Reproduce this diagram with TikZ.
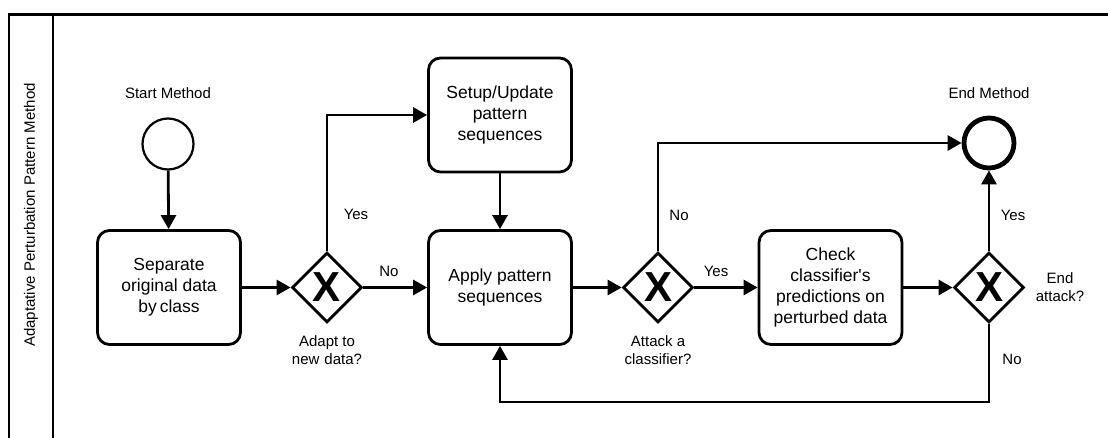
\documentclass[tikz,border=0pt]{standalone}
\usepackage{fontspec}
\setmainfont{Liberation Sans}
\usetikzlibrary{shapes.geometric,arrows.meta}

\begin{document}
\begin{tikzpicture}[x=1pt,y=-1pt,
  flow/.style={line width=2.8pt,-{Triangle[length=14pt,width=15pt]}},
  task/.style={draw,line width=2.8pt,rounded corners=12pt,minimum width=143pt,minimum height=114pt,
    align=center,inner sep=2pt,font=\fontsize{17.5}{21}\selectfont},
  gateway/.style={draw,diamond,aspect=1,line width=2.8pt,minimum size=70pt,inner sep=0pt,
    font=\fontsize{42}{42}\selectfont\bfseries},
  startev/.style={draw,circle,line width=2.2pt,minimum size=51pt,inner sep=0pt},
  endev/.style={draw,circle,line width=4.8pt,minimum size=50pt,inner sep=0pt},
  lbl/.style={align=center,inner sep=0pt,font=\fontsize{15}{18}\selectfont},
  frame/.style={line width=2.8pt}
]
\useasboundingbox (0,0) rectangle (1108,438);

% pool frame and lane header
\draw[frame] (1112,14.5) -- (9,14.5) -- (9,442);
\draw[frame] (53,14.5) -- (53,442);
\node[lbl,rotate=90] (lanetitle) at (31,215) {Adaptative Perturbation Pattern Method};

% events
\node[startev] (start) at (168,144) {};
\node[endev] (finish) at (989,143) {};
\node[lbl] (startlbl) at (168,93) {Start Method};
\node[lbl] (endlbl) at (989,93) {End Method};

% tasks
\node[task] (separate) at (169,287.5) {Separate\\original data\\by\,class};
\node[task] (setup) at (500,115) {Setup/Update\\pattern\\sequences};
\node[task] (apply) at (500,287.5) {Apply pattern\\sequences};
\node[task] (check) at (830.5,287.5) {Check\\classifier\textquotesingle s\\predictions on\\perturbed data};

% exclusive gateways
\node[gateway] (gwadapt) at (327,287.5) {X};
\node[gateway] (gwattack) at (658,287.5) {X};
\node[gateway] (gwend) at (989,287.5) {X};

% gateway captions
\node[lbl] (adaptlbl) at (327,350) {Adapt to\\new\,\,data?};
\node[lbl] (attacklbl) at (658,350) {Attack a\\classifier?};
\node[lbl] (endattlbl) at (1060,287) {End\\attack?};

% sequence flows
\draw[flow] (start) -- (separate);
\draw[flow] (separate) -- (gwadapt);
\draw[flow] (gwadapt.north) |- (setup.west);
\draw[flow] (gwadapt) -- (apply);
\draw[flow] (setup) -- (apply);
\draw[flow] (apply) -- (gwattack);
\draw[flow] (gwattack.north) |- (finish.west);
\draw[flow] (gwattack) -- (check);
\draw[flow] (check) -- (gwend);
\draw[flow] (gwend) -- (finish);
\coordinate (loopcorner) at (989,402);
\draw[flow] (gwend.south) -- (loopcorner) -| (apply.south);

% flow labels
\node[lbl] (yes1) at (356,214) {Yes};
\node[lbl] (no1) at (389,271) {No};
\node[lbl] (no2) at (679,215) {No};
\node[lbl] (yes2) at (716,271) {Yes};
\node[lbl] (yes3) at (1013,215) {Yes};
\node[lbl] (no3) at (1012,359) {No};
\end{tikzpicture}
\end{document}
